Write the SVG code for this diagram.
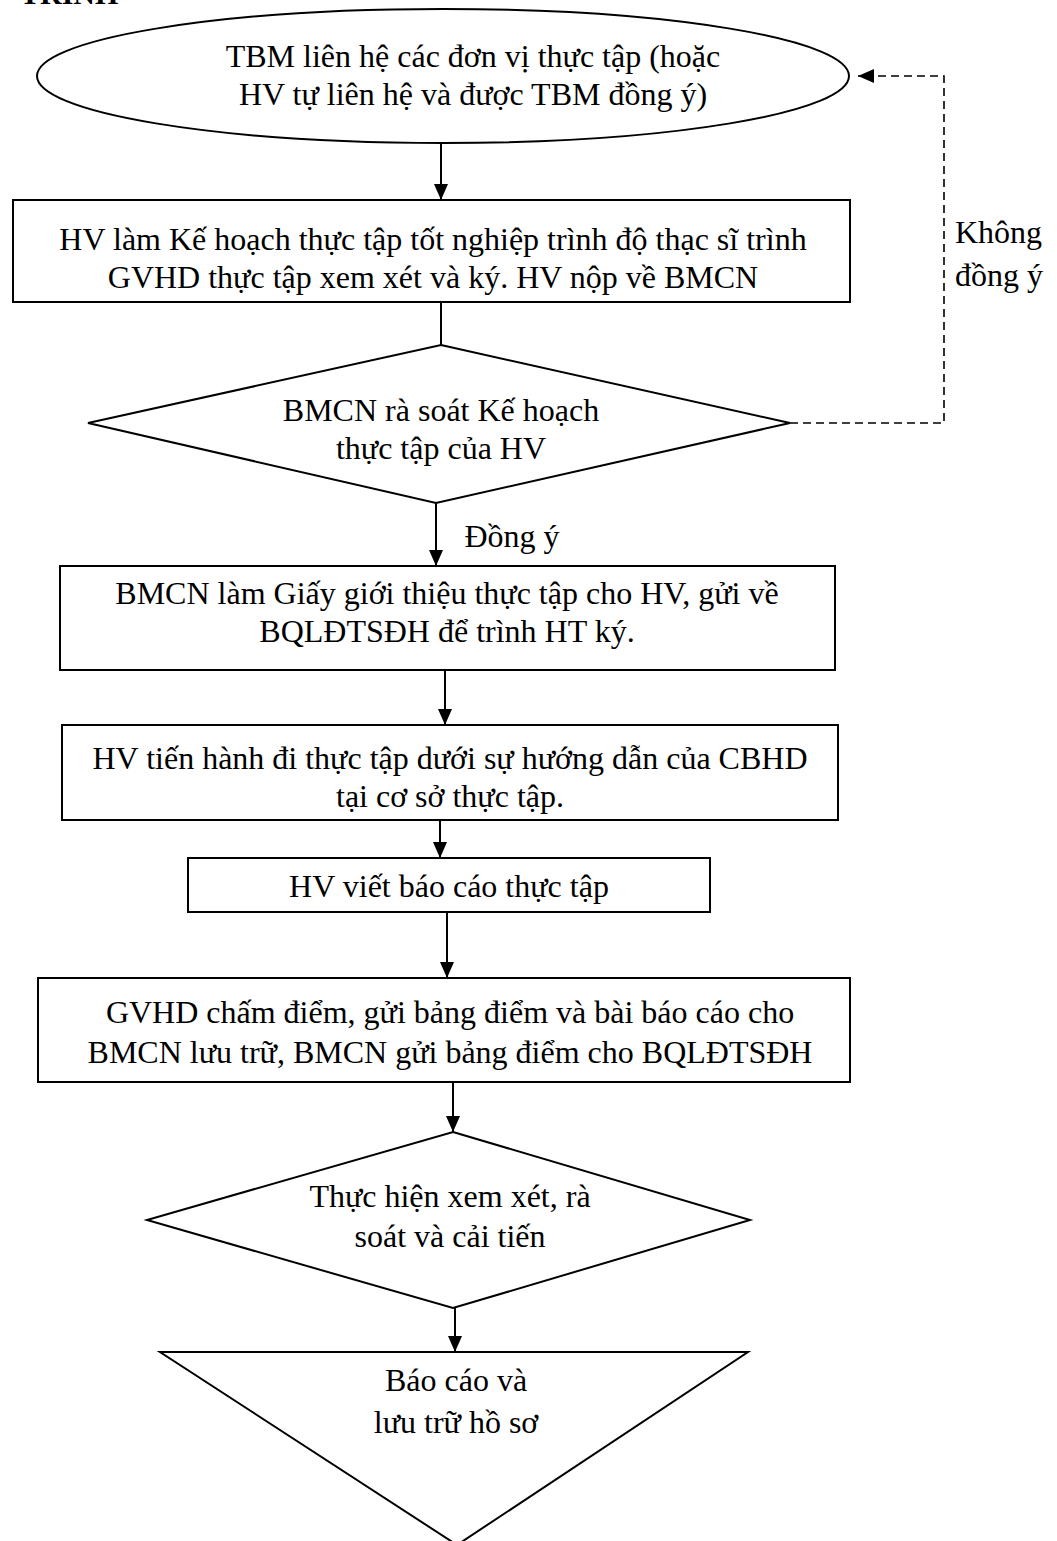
<svg xmlns="http://www.w3.org/2000/svg" width="1057" height="1541" viewBox="0 0 1057 1541">
<style>
.s{fill:#fff;stroke:#000;stroke-width:2}
.t{font-family:"Liberation Serif","Times New Roman",serif;font-size:32px;fill:#000;text-anchor:middle}
.c{fill:none;stroke:#000;stroke-width:2}
.d{fill:none;stroke:#000;stroke-width:1.6;stroke-dasharray:8 5}
</style>
<defs>
<marker id="ah" markerUnits="userSpaceOnUse" markerWidth="16" markerHeight="16" viewBox="0 0 16 16" refX="16" refY="8" orient="auto">
<path d="M0,1 L16,8 L0,15 Z" fill="#000"/>
</marker>
</defs>
<rect width="1057" height="1541" fill="#fff"/>
<text x="20" y="4" style="font-family:'Liberation Serif',serif;font-size:30px;font-weight:bold">TRÌNH</text>

<g id="connectors">
<line class="c" x1="441" y1="143" x2="441" y2="200" marker-end="url(#ah)"/>
<line class="c" x1="441" y1="302" x2="441" y2="345"/>
<line class="c" x1="436" y1="503" x2="436" y2="566" marker-end="url(#ah)"/>
<line class="c" x1="445" y1="670" x2="445" y2="725" marker-end="url(#ah)"/>
<line class="c" x1="440" y1="820" x2="440" y2="858" marker-end="url(#ah)"/>
<line class="c" x1="447" y1="912" x2="447" y2="978" marker-end="url(#ah)"/>
<line class="c" x1="453" y1="1082" x2="453" y2="1132" marker-end="url(#ah)"/>
<line class="c" x1="455" y1="1308" x2="455" y2="1352" marker-end="url(#ah)"/>
<polyline class="d" points="790,423 944,423 944,76 858,76" marker-end="url(#ah)"/>
<text class="t" x="512" y="547">Đồng ý</text>
<text class="t" x="955" y="243" style="text-anchor:start">Không</text>
<text class="t" x="955" y="286" style="text-anchor:start">đồng ý</text>
</g>

<g id="n1">
<ellipse class="s" cx="443" cy="76" rx="406" ry="67"/>
<text class="t" x="473" y="67">TBM liên hệ các đơn vị thực tập (hoặc</text>
<text class="t" x="473" y="105">HV tự liên hệ và được TBM đồng ý)</text>
</g>
<g id="n2">
<rect class="s" x="13" y="200" width="837" height="102"/>
<text class="t" x="433" y="250">HV làm Kế hoạch thực tập tốt nghiệp trình độ thạc sĩ trình</text>
<text class="t" x="433" y="288">GVHD thực tập xem xét và ký. HV nộp về BMCN</text>
</g>
<g id="n3">
<polygon class="s" points="441,345 790,423 436,503 88,423"/>
<text class="t" x="441" y="421">BMCN rà soát Kế hoạch</text>
<text class="t" x="441" y="459">thực tập của HV</text>
</g>
<g id="n4">
<rect class="s" x="60" y="566" width="775" height="104"/>
<text class="t" x="447" y="604">BMCN làm Giấy giới thiệu thực tập cho HV, gửi về</text>
<text class="t" x="447" y="642">BQLĐTSĐH để trình HT ký.</text>
</g>
<g id="n5">
<rect class="s" x="62" y="725" width="776" height="95"/>
<text class="t" x="450" y="769">HV tiến hành đi thực tập dưới sự hướng dẫn của CBHD</text>
<text class="t" x="450" y="807">tại cơ sở thực tập.</text>
</g>
<g id="n6">
<rect class="s" x="188" y="858" width="522" height="54"/>
<text class="t" x="449" y="897">HV viết báo cáo thực tập</text>
</g>
<g id="n7">
<rect class="s" x="38" y="978" width="812" height="104"/>
<text class="t" x="450" y="1023">GVHD chấm điểm, gửi bảng điểm và bài báo cáo cho</text>
<text class="t" x="450" y="1063">BMCN lưu trữ, BMCN gửi bảng điểm cho BQLĐTSĐH</text>
</g>
<g id="n8">
<polygon class="s" points="453,1132 750,1220 453,1308 147,1220"/>
<text class="t" x="450" y="1207">Thực hiện xem xét, rà</text>
<text class="t" x="450" y="1247">soát và cải tiến</text>
</g>
<g id="n9">
<polygon class="s" points="160,1352 748,1352 457,1545"/>
<text class="t" x="456" y="1391">Báo cáo và</text>
<text class="t" x="456" y="1433">lưu trữ hồ sơ</text>
</g>
</svg>
